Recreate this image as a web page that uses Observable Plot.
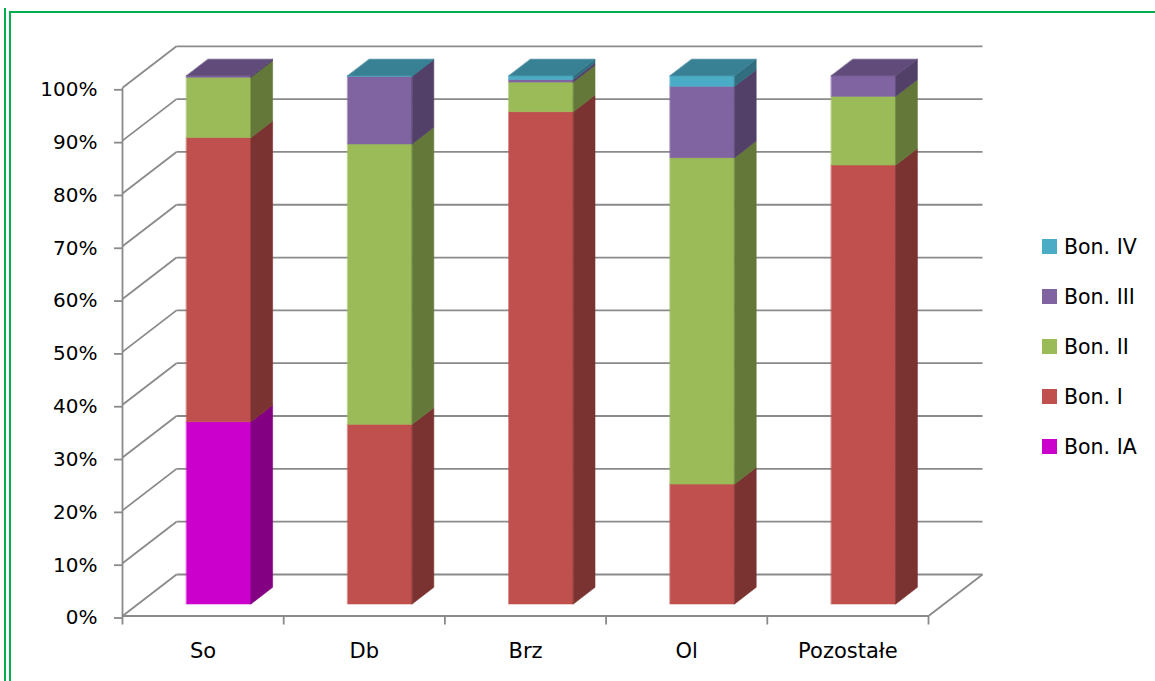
<!DOCTYPE html>
<html>
<head>
<meta charset="utf-8">
<script src="https://cdn.jsdelivr.net/npm/d3@7"></script>
<script src="https://cdn.jsdelivr.net/npm/@observablehq/plot@0.6"></script>
<style>
  html, body { margin: 0; padding: 0; background: #fff; }
  #wrap { position: relative; width: 1155px; height: 681px; overflow: hidden; font-family: "DejaVu Sans", sans-serif; }
  .frame-outer { position: absolute; left: 4px; top: 8px; bottom: 0; border-left: 2px solid #00B050; }
  .frame-inner { position: absolute; left: 9px; top: 11px; right: 0; bottom: 0; border-left: 2px solid #00B050; border-top: 2px solid #00B050; }
  #chart { position: absolute; left: 0; top: 0; }
  #legend { position: absolute; left: 1042px; top: 221.5px; }
  .item { display: flex; align-items: center; height: 50px; font-size: 20.5px; color: #000; }
  .swatch { width: 15px; height: 15px; margin-right: 7px; }
</style>
</head>
<body>
<div id="wrap">
  <div class="frame-outer"></div>
  <div class="frame-inner"></div>
  <div id="chart"></div>
  <div id="legend"></div>
</div>
<script>
// Share of site-quality classes (bonitacja) by species group, in percent
const categories = ["So", "Db", "Brz", "Ol", "Pozostałe"];
const series = ["Bon. IA", "Bon. I", "Bon. II", "Bon. III", "Bon. IV"];
const bonIA = [34.5, 0, 0, 0, 0];
const bonI = [53.8, 34.0, 93.2, 22.7, 83.1];
const bonII = [11.4, 53.1, 5.6, 61.8, 13.0];
const bonIII = [0.3, 12.8, 0.5, 13.5, 3.9];
const bonIV = [0, 0.1, 0.7, 2.0, 0];
const seriesColors = ["#CC00CC", "#C0504D", "#9BBB59", "#8064A2", "#4BACC6"];
const yTicks = [0, 10, 20, 30, 40, 50, 60, 70, 80, 90, 100];

const values = [bonIA, bonI, bonII, bonIII, bonIV];

// oblique 3D projection: depth d in [0,1] shifts right and up
const DEPTH_X = 0.335;   // in category units
const DEPTH_Y = 7.86;    // in percent units
const BAR = 0.4;         // bar width as a fraction of the category
const D0 = 0.29, D1 = 0.69; // bar front / back depth
const proj = (x, v, d) => ({x: x + d * DEPTH_X, y: v + d * DEPTH_Y});

const shade = (c, k) => d3.color(c).darker(k).formatHex();

// build polygons for each stacked segment (front, side) and stack top
const polys = [];
let pid = 0;
categories.forEach((cat, i) => {
  const total = d3.sum(values, s => s[i]);
  const xl = i + 0.5 - BAR / 2, xr = i + 0.5 + BAR / 2;
  let cum = 0, topColor = null;
  values.forEach((s, k) => {
    const v = s[i] / total * 100;
    if (!(v > 0)) return;
    const y0 = cum, y1 = cum + v;
    cum = y1;
    const c = seriesColors[k];
    const front = [proj(xl, y0, D0), proj(xr, y0, D0), proj(xr, y1, D0), proj(xl, y1, D0)];
    const side = [proj(xr, y0, D0), proj(xr, y0, D1), proj(xr, y1, D1), proj(xr, y1, D0)];
    const fid = pid++, sid = pid++;
    front.forEach(p => polys.push({...p, id: fid, fill: c}));
    side.forEach(p => polys.push({...p, id: sid, fill: shade(c, 1.25)}));
    topColor = c;
  });
  const top = [proj(xl, cum, D0), proj(xr, cum, D0), proj(xr, cum, D1), proj(xl, cum, D1)];
  const tid = pid++;
  top.forEach(p => polys.push({...p, id: tid, fill: shade(topColor, 0.8)}));
});

const grid = "#8a8a8a";
const n = categories.length;

const chart = Plot.plot({
  width: 1155,
  height: 681,
  marginLeft: 122,
  marginRight: 227,
  marginTop: 87.3,
  marginBottom: 65.5,
  style: {fontFamily: "DejaVu Sans, sans-serif", fontSize: "20px", color: "#000", background: "transparent"},
  x: {type: "linear", domain: [0, n], axis: null},
  y: {domain: [0, 100], axis: null},
  color: {type: "identity"},
  marks: [
    // back wall gridlines
    Plot.link(yTicks, {x1: () => DEPTH_X, x2: () => n + DEPTH_X, y1: v => v + DEPTH_Y, y2: v => v + DEPTH_Y, stroke: grid, strokeWidth: 1.8}),
    // side wall gridlines
    Plot.link(yTicks, {x1: () => 0, y1: v => v, x2: () => DEPTH_X, y2: v => v + DEPTH_Y, stroke: grid, strokeWidth: 1.8}),
    // floor edges
    Plot.link([0], {x1: () => 0, y1: () => 0, x2: () => n, y2: () => 0, stroke: grid, strokeWidth: 1.8}),
    Plot.link([0], {x1: () => n, y1: () => 0, x2: () => n + DEPTH_X, y2: () => DEPTH_Y, stroke: grid, strokeWidth: 1.8}),
    // front value axis line
    Plot.link([0], {x1: () => 0, y1: () => 0, x2: () => 0, y2: () => 100, stroke: grid, strokeWidth: 1.8}),
    // bars
    Plot.line(polys, {x: "x", y: "y", z: "id", fill: "fill", stroke: "fill", strokeWidth: 0.6, curve: "linear-closed"}),
    // axes
    Plot.axisY({ticks: yTicks, tickFormat: d => d + "%", tickSize: 8, tickPadding: 17, stroke: grid, fill: "#000", fontSize: 20, label: null, dy: 2, strokeWidth: 1.8}),
    Plot.axisX({ticks: d3.range(n + 1), tickSize: 9, tickFormat: () => "", stroke: grid, label: null, strokeWidth: 1.8}),
    Plot.text(categories, {x: (d, i) => i + 0.5, y: () => 0, text: d => d, dy: 35, fontSize: 21, fill: "#000"})
  ]
});
document.getElementById("chart").appendChild(chart);

// legend, top entry is the last series
const legend = d3.select("#legend");
series.slice().reverse().forEach((s, j) => {
  const k = series.length - 1 - j;
  const item = legend.append("div").attr("class", "item");
  item.append("div").attr("class", "swatch").style("background", seriesColors[k]);
  item.append("span").text(s);
});
</script>
</body>
</html>
